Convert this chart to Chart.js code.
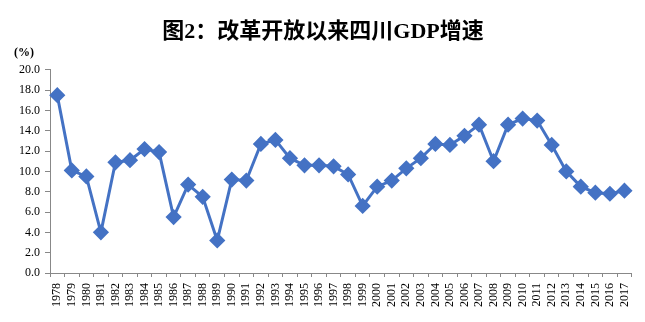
<!DOCTYPE html>
<html>
<head>
<meta charset="utf-8">
<script src="https://cdn.jsdelivr.net/npm/chart.js@4"></script>
<style>
  body { margin: 0; background: #fff; }
  #wrap { width: 645px; height: 322px; }
</style>
</head>
<body>
<div id="wrap"><canvas id="canvas1"></canvas></div>
<script>
let years = ['1978','1979','1980','1981','1982','1983','1984','1985','1986','1987',
  '1988','1989','1990','1991','1992','1993','1994','1995','1996','1997',
  '1998','1999','2000','2001','2002','2003','2004','2005','2006','2007',
  '2008','2009','2010','2011','2012','2013','2014','2015','2016','2017'];
let growth = [17.5,10.1,9.5,4.0,10.9,11.1,12.2,11.9,5.5,8.7,
  7.5,3.2,9.2,9.1,12.7,13.1,11.3,10.6,10.6,10.5,
  9.7,6.6,8.5,9.1,10.3,11.3,12.7,12.6,13.5,14.6,
  11.0,14.6,15.2,15.0,12.6,10.0,8.5,7.9,7.8,8.1];
let titleText = '图2：改革开放以来四川GDP增速';
let unitText = '(%)';

let serif = '"Liberation Serif", "Times New Roman", "Noto Sans CJK SC", serif';

let myChart = document.getElementById('canvas1').getContext('2d');
let gdpChart = new Chart(myChart, {
  type: 'line',
  data: {
    labels: years,
    datasets: [{
      data: growth,
      borderColor: '#4472C4',
      backgroundColor: '#4472C4',
      borderWidth: 3,
      pointStyle: 'rectRot',
      pointRadius: 6,
      pointHoverRadius: 6,
      tension: 0
    }]
  },
  options: {
    responsive: true,
    maintainAspectRatio: false,
    animation: false,
    layout: { padding: { left: 14, right: 13, top: 19, bottom: 9 } },
    plugins: {
      legend: { display: false },
      tooltip: { enabled: false },
      title: {
        display: true,
        text: titleText,
        color: '#000',
        font: { family: '"Liberation Serif", "Noto Sans CJK SC", serif', size: 22, weight: 'bold' },
        padding: { top: 0, bottom: 0 }
      },
      subtitle: {
        display: true,
        text: unitText,
        align: 'start',
        color: '#000',
        font: { family: serif, size: 12, weight: 'bold' },
        padding: { top: 0, bottom: 10 }
      }
    },
    scales: {
      x: {
        offset: true,
        grid: { display: true, drawOnChartArea: false, offset: true, tickLength: 4, color: '#888' },
        border: { color: '#888' },
        ticks: { color: '#000', minRotation: 90, maxRotation: 90, autoSkip: false, padding: 6,
          font: { family: serif, size: 12 } }
      },
      y: {
        min: 0, max: 20,
        grid: { display: true, drawOnChartArea: false, tickLength: 5, color: '#888' },
        border: { color: '#888' },
        ticks: { stepSize: 2, color: '#000', padding: 5,
          font: { family: serif, size: 12 },
          callback: function(v) { return v.toFixed(1); } }
      }
    }
  }
});
</script>
</body>
</html>
